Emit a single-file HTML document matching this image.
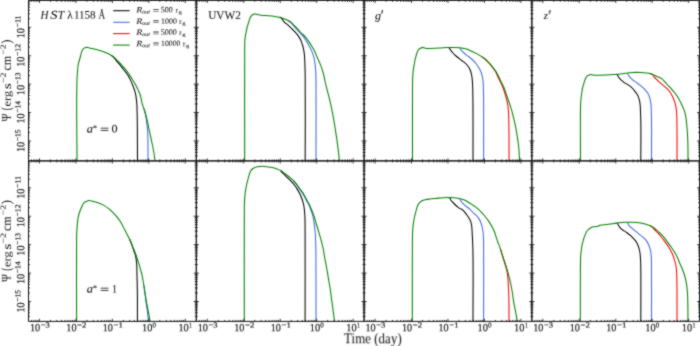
<!DOCTYPE html>
<html><head><meta charset="utf-8"><title>figure</title><style>
html,body{margin:0;padding:0;background:#fff;}
svg{display:block;will-change:transform;}
text{font-family:"Liberation Serif",serif;fill:#1a1a1a;stroke:#1a1a1a;stroke-width:0.15px;}
.i{font-style:italic;}
.t text{stroke-width:0.08px;}
.ax text{stroke-width:0.05px;}
.lg text{stroke-width:0.08px;}
.tk text{stroke-width:0.18px;}
</style></head><body>
<svg width="700" height="346" viewBox="0 0 700 346" xmlns="http://www.w3.org/2000/svg">
<defs><filter id="cv" x="0" y="0" width="700" height="346" filterUnits="userSpaceOnUse" color-interpolation-filters="sRGB"><feConvolveMatrix order="3" kernelMatrix="1 2 1 2 12 2 1 2 1" divisor="24" edgeMode="duplicate" preserveAlpha="true"/></filter></defs>
<g filter="url(#cv)">
<rect width="700" height="346" fill="#fff"/>

<g fill="none" stroke-linejoin="round" stroke-linecap="butt">
<path d="M111.90,55.80C112.47,56.27 113.09,56.67 113.60,57.20C114.51,58.14 115.16,59.30 116.00,60.30C116.89,61.37 117.91,62.33 118.80,63.40C119.74,64.53 120.60,65.73 121.50,66.90C122.63,68.37 123.76,69.84 124.90,71.30C125.86,72.54 126.91,73.71 127.80,75.00C128.02,75.32 128.21,75.66 128.40,76.00C129.29,77.60 130.13,79.24 130.90,80.90C131.63,82.47 132.27,84.09 132.90,85.70C133.53,87.32 134.19,88.94 134.70,90.60C135.11,91.95 135.43,93.32 135.70,94.70C136.01,96.32 136.21,97.96 136.40,99.60C136.61,101.36 136.79,103.13 136.90,104.90C137.04,107.26 137.04,109.63 137.10,112.00C137.18,115.33 137.26,118.67 137.30,122.00C137.38,128.00 137.37,134.00 137.40,140.00C137.44,146.97 137.47,153.93 137.50,160.90" stroke="#000000" stroke-width="1.05"/>
<path d="M143.80,108.40C144.37,110.27 145.08,112.10 145.50,114.00C145.96,116.07 146.12,118.20 146.40,120.30C146.80,123.30 147.25,126.29 147.50,129.30C147.75,132.36 147.82,135.43 147.90,138.50C148.01,142.83 147.98,147.17 148.00,151.50C148.01,154.63 148.00,157.77 148.00,160.90" stroke="#4169e1" stroke-width="1.05"/>
<path d="M77.00,160.90C77.00,133.93 76.21,106.96 77.00,80.00C77.08,77.16 77.26,74.33 77.50,71.50C77.71,69.06 77.84,66.60 78.30,64.20C78.44,63.45 78.70,62.73 78.90,62.00C79.40,60.17 79.90,58.33 80.40,56.50C80.77,55.13 81.05,53.74 81.50,52.40C81.84,51.41 82.12,50.37 82.70,49.50C83.07,48.95 83.53,48.44 84.10,48.10C84.70,47.74 85.41,47.62 86.10,47.50C86.69,47.40 87.31,47.31 87.90,47.40C88.29,47.46 88.63,47.67 89.00,47.80C89.40,47.94 89.79,48.10 90.20,48.20C91.51,48.53 92.89,48.58 94.20,48.90C95.49,49.22 96.72,49.75 98.00,50.10C99.15,50.41 100.35,50.55 101.50,50.90C102.66,51.25 103.78,51.74 104.90,52.20C106.08,52.68 107.27,53.12 108.40,53.70C109.61,54.32 110.78,55.03 111.90,55.80C112.84,56.44 113.74,57.15 114.60,57.90C115.58,58.75 116.47,59.69 117.40,60.60C118.34,61.52 119.30,62.44 120.20,63.40C120.99,64.24 121.73,65.13 122.50,66.00C123.30,66.90 124.13,67.77 124.90,68.70C126.12,70.19 127.28,71.73 128.40,73.30C129.03,74.18 129.61,75.10 130.20,76.00C131.11,77.39 132.03,78.78 132.90,80.20C133.87,81.78 134.83,83.37 135.70,85.00C136.56,86.60 137.33,88.25 138.10,89.90C138.73,91.25 139.41,92.59 139.90,94.00C140.54,95.82 140.98,97.71 141.40,99.60C141.69,100.89 141.77,102.22 142.10,103.50C142.54,105.17 143.27,106.76 143.80,108.40C144.40,110.26 144.97,112.12 145.50,114.00C146.07,115.99 146.62,117.99 147.10,120.00C147.84,123.08 148.44,126.20 149.10,129.30C149.88,133.00 150.63,136.70 151.40,140.40C152.17,144.10 153.06,147.78 153.70,151.50C154.24,154.62 154.57,157.77 155.00,160.90" stroke="#008000" stroke-width="1.05"/>
<path d="M279.60,17.00C280.17,17.33 280.82,17.56 281.30,18.00C282.15,18.77 282.66,19.85 283.30,20.80C283.54,21.16 283.71,21.58 284.00,21.90C285.00,23.01 286.36,23.73 287.50,24.70C288.67,25.70 289.79,26.74 290.90,27.80C292.09,28.94 293.28,30.09 294.40,31.30C295.62,32.62 296.85,33.94 297.90,35.40C298.99,36.92 300.00,38.51 300.80,40.20C301.53,41.73 302.01,43.37 302.50,45.00C302.98,46.61 303.38,48.25 303.70,49.90C304.01,51.49 304.24,53.09 304.40,54.70C304.58,56.46 304.62,58.23 304.70,60.00C304.83,62.67 304.93,65.33 305.00,68.00C305.11,72.00 305.17,76.00 305.20,80.00C305.42,106.97 305.20,133.93 305.20,160.90" stroke="#000000" stroke-width="1.05"/>
<path d="M287.50,20.20C288.63,21.00 289.88,21.67 290.90,22.60C292.23,23.81 293.22,25.35 294.40,26.70C295.55,28.01 296.73,29.30 297.90,30.60C299.03,31.87 300.13,33.17 301.30,34.40C301.92,35.05 302.63,35.61 303.20,36.30C304.38,37.73 305.32,39.33 306.30,40.90C307.28,42.47 308.23,44.07 309.10,45.70C309.96,47.30 310.78,48.93 311.50,50.60C312.18,52.17 312.78,53.77 313.30,55.40C313.78,56.91 314.19,58.45 314.50,60.00C314.69,60.96 314.78,61.93 314.90,62.90C315.13,64.73 315.35,66.56 315.50,68.40C315.69,70.70 315.82,73.00 315.90,75.30C316.01,78.53 315.98,81.77 316.00,85.00C316.13,110.30 316.00,135.60 316.00,160.90" stroke="#4169e1" stroke-width="1.05"/>
<path d="M244.70,160.90C244.70,123.93 244.48,86.97 244.70,50.00C244.72,47.23 244.64,44.46 244.80,41.70C244.93,39.46 245.13,37.21 245.50,35.00C245.67,33.99 245.98,33.00 246.20,32.00C246.56,30.34 246.78,28.65 247.20,27.00C247.56,25.61 248.07,24.27 248.50,22.90C248.94,21.50 249.25,20.06 249.80,18.70C250.16,17.80 250.51,16.87 251.10,16.10C251.59,15.46 252.19,14.87 252.90,14.50C253.39,14.24 253.96,14.19 254.50,14.10C254.86,14.04 255.23,13.95 255.60,14.00C256.20,14.07 256.72,14.45 257.30,14.60C258.45,14.90 259.63,15.05 260.80,15.20C262.53,15.41 264.27,15.44 266.00,15.60C268.90,15.86 271.82,16.04 274.70,16.50C276.72,16.82 278.72,17.29 280.70,17.80C281.81,18.09 282.92,18.42 284.00,18.80C285.19,19.22 286.37,19.65 287.50,20.20C288.68,20.78 289.86,21.40 290.90,22.20C292.20,23.21 293.23,24.53 294.40,25.70C295.57,26.87 296.77,28.00 297.90,29.20C299.07,30.43 300.11,31.79 301.30,33.00C302.44,34.16 303.80,35.10 304.90,36.30C306.20,37.72 307.29,39.32 308.40,40.90C309.49,42.46 310.51,44.07 311.50,45.70C312.48,47.31 313.46,48.92 314.30,50.60C315.08,52.16 315.71,53.80 316.40,55.40C317.01,56.80 317.58,58.21 318.20,59.60C318.69,60.71 319.23,61.79 319.70,62.90C320.46,64.71 321.16,66.54 321.80,68.40C322.43,70.25 323.01,72.11 323.50,74.00C324.18,76.64 324.59,79.34 325.20,82.00C326.00,85.48 326.93,88.93 327.80,92.40C328.67,95.87 329.60,99.32 330.40,102.80C331.35,106.95 332.22,111.12 333.00,115.30C333.87,119.95 334.57,124.63 335.30,129.30C336.00,133.73 336.70,138.16 337.30,142.60C337.90,147.02 338.41,151.46 338.90,155.90C339.08,157.56 339.23,159.23 339.40,160.90" stroke="#008000" stroke-width="1.05"/>
<path d="M448.40,47.60C448.60,47.63 448.83,47.59 449.00,47.70C449.69,48.13 449.92,49.04 450.40,49.70C451.08,50.64 451.74,51.62 452.50,52.50C453.58,53.75 454.77,54.90 456.00,56.00C457.08,56.96 458.27,57.80 459.40,58.70C460.57,59.63 461.65,60.68 462.90,61.50C463.37,61.81 463.95,61.96 464.40,62.30C465.59,63.19 466.59,64.32 467.50,65.50C468.52,66.83 469.43,68.27 470.10,69.80C470.82,71.45 471.23,73.23 471.60,75.00C472.02,77.01 472.22,79.06 472.40,81.10C472.60,83.39 472.63,85.70 472.70,88.00C472.82,92.00 472.85,96.00 472.90,100.00C472.94,103.33 472.98,106.67 473.00,110.00C473.08,126.97 473.00,143.93 473.00,160.90" stroke="#000000" stroke-width="1.05"/>
<path d="M459.80,48.00C460.13,48.50 460.44,49.02 460.80,49.50C461.42,50.33 462.07,51.16 462.80,51.90C464.06,53.18 465.49,54.28 466.90,55.40C468.26,56.48 469.77,57.37 471.10,58.50C472.59,59.77 474.03,61.11 475.30,62.60C476.28,63.75 477.08,65.03 477.90,66.30C478.82,67.73 479.80,69.15 480.50,70.70C481.25,72.36 481.78,74.13 482.20,75.90C482.67,77.87 482.91,79.89 483.10,81.90C483.42,85.25 483.41,88.63 483.50,92.00C483.57,94.67 483.58,97.33 483.60,100.00C483.73,120.30 483.60,140.60 483.60,160.90" stroke="#4169e1" stroke-width="1.05"/>
<path d="M482.00,56.80C483.17,57.70 484.40,58.52 485.50,59.50C486.71,60.58 487.81,61.79 488.90,63.00C490.12,64.35 491.28,65.76 492.40,67.20C493.62,68.76 494.94,70.27 495.90,72.00C496.60,73.26 496.92,74.69 497.50,76.00C498.33,77.87 499.34,79.65 500.20,81.50C501.17,83.58 502.16,85.66 503.00,87.80C503.79,89.83 504.45,91.92 505.10,94.00C505.61,95.62 506.09,97.25 506.50,98.90C507.00,100.88 507.48,102.88 507.80,104.90C508.17,107.22 508.34,109.56 508.50,111.90C508.68,114.50 508.73,117.10 508.80,119.70C508.87,122.47 508.86,125.23 508.90,128.00C508.93,130.33 508.98,132.67 509.00,135.00C509.06,143.63 509.00,152.27 509.00,160.90" stroke="#ff0000" stroke-width="1.05"/>
<path d="M412.50,160.90C412.50,137.27 412.38,113.63 412.50,90.00C412.52,86.67 412.50,83.33 412.60,80.00C412.66,77.97 412.73,75.93 412.90,73.90C413.04,72.16 413.25,70.43 413.50,68.70C413.75,66.96 414.10,65.23 414.40,63.50C414.56,62.57 414.70,61.63 414.90,60.70C415.25,59.09 415.66,57.49 416.10,55.90C416.49,54.49 416.81,53.04 417.40,51.70C417.77,50.85 418.15,49.96 418.80,49.30C419.29,48.80 419.96,48.50 420.60,48.20C421.36,47.84 422.16,47.39 423.00,47.40C423.50,47.41 423.93,47.75 424.40,47.90C424.96,48.08 425.52,48.32 426.10,48.40C427.39,48.59 428.70,48.43 430.00,48.40C433.34,48.33 436.67,48.19 440.00,48.00C442.30,47.87 444.60,47.58 446.90,47.50C449.23,47.42 451.57,47.46 453.90,47.50C455.93,47.53 457.98,47.47 460.00,47.70C461.86,47.91 463.70,48.29 465.50,48.80C467.42,49.35 469.27,50.11 471.10,50.90C472.98,51.71 474.80,52.63 476.60,53.60C478.03,54.38 479.42,55.24 480.80,56.10C481.37,56.46 481.95,56.81 482.50,57.20C483.59,57.96 484.69,58.73 485.70,59.60C486.90,60.63 488.03,61.74 489.10,62.90C490.34,64.24 491.48,65.66 492.60,67.10C493.82,68.66 495.03,70.23 496.10,71.90C496.95,73.22 497.68,74.61 498.40,76.00C499.33,77.80 500.11,79.68 501.00,81.50C501.91,83.38 502.98,85.18 503.80,87.10C504.57,88.89 505.16,90.76 505.80,92.60C506.53,94.69 507.18,96.81 507.90,98.90C508.59,100.91 509.35,102.88 510.00,104.90C510.75,107.22 511.46,109.55 512.10,111.90C512.80,114.48 513.38,117.10 514.00,119.70C514.55,122.00 515.14,124.28 515.60,126.60C516.35,130.38 516.93,134.19 517.50,138.00C517.99,141.33 518.48,144.65 518.80,148.00C519.21,152.29 519.33,156.60 519.60,160.90" stroke="#008000" stroke-width="1.05"/>
<path d="M616.50,74.10C616.73,74.20 617.02,74.22 617.20,74.40C617.76,74.94 617.80,75.84 618.20,76.50C618.72,77.36 619.32,78.16 620.00,78.90C620.82,79.79 621.77,80.54 622.70,81.30C623.60,82.04 624.52,82.77 625.50,83.40C626.39,83.97 627.42,84.31 628.30,84.90C629.88,85.95 631.38,87.14 632.70,88.50C633.20,89.01 633.56,89.64 634.00,90.20C634.70,91.10 635.41,91.99 636.10,92.90C636.40,93.30 636.75,93.67 637.00,94.10C637.94,95.73 638.68,97.49 639.20,99.30C639.77,101.25 639.99,103.28 640.20,105.30C640.43,107.52 640.41,109.77 640.50,112.00C640.61,114.67 640.75,117.33 640.80,120.00C641.06,133.63 640.80,147.27 640.80,160.90" stroke="#000000" stroke-width="1.05"/>
<path d="M627.50,73.40C627.53,73.47 627.56,73.53 627.60,73.60C628.11,74.55 628.55,75.55 629.20,76.40C630.20,77.71 631.43,78.85 632.70,79.90C633.85,80.85 635.20,81.52 636.40,82.40C637.36,83.10 638.27,83.86 639.20,84.60C640.17,85.36 641.16,86.10 642.10,86.90C642.93,87.60 643.75,88.31 644.50,89.10C645.22,89.85 645.86,90.68 646.50,91.50C647.06,92.22 647.66,92.91 648.10,93.70C648.76,94.89 649.21,96.20 649.60,97.50C650.20,99.49 650.62,101.54 650.90,103.60C651.21,105.88 651.20,108.20 651.30,110.50C651.41,113.00 651.47,115.50 651.50,118.00C651.69,132.30 651.50,146.60 651.50,160.90" stroke="#4169e1" stroke-width="1.05"/>
<path d="M649.30,73.40C650.50,73.90 651.91,74.06 652.90,74.90C653.57,75.46 653.76,76.42 654.30,77.10C655.13,78.13 656.16,78.98 657.10,79.90C658.03,80.81 658.93,81.74 659.90,82.60C661.00,83.58 662.19,84.44 663.30,85.40C664.73,86.63 666.21,87.82 667.50,89.20C668.75,90.53 669.92,91.96 670.90,93.50C671.94,95.14 672.75,96.91 673.50,98.70C674.21,100.39 674.84,102.13 675.30,103.90C675.82,105.90 676.16,107.95 676.40,110.00C676.67,112.32 676.72,114.66 676.80,117.00C676.96,121.33 676.97,125.67 677.00,130.00C677.08,140.30 677.00,150.60 677.00,160.90" stroke="#ff0000" stroke-width="1.05"/>
<path d="M580.50,160.90C580.50,143.53 580.22,126.16 580.50,108.80C580.53,106.77 580.59,104.73 580.70,102.70C580.80,100.96 580.90,99.23 581.10,97.50C581.33,95.49 581.68,93.50 582.00,91.50C582.22,90.13 582.39,88.75 582.70,87.40C583.07,85.78 583.60,84.19 584.10,82.60C584.51,81.29 584.84,79.95 585.40,78.70C585.78,77.86 586.14,76.95 586.80,76.30C587.29,75.82 587.97,75.56 588.60,75.30C589.37,74.98 590.17,74.63 591.00,74.60C591.48,74.58 591.93,74.81 592.40,74.90C593.20,75.05 593.99,75.23 594.80,75.30C595.86,75.39 596.93,75.32 598.00,75.30C600.00,75.27 602.00,75.19 604.00,75.10C606.30,74.99 608.60,74.84 610.90,74.70C613.00,74.57 615.11,74.50 617.20,74.30C618.81,74.15 620.40,73.89 622.00,73.70C624.00,73.46 626.00,73.22 628.00,73.00C629.57,72.83 631.13,72.58 632.70,72.50C635.56,72.35 638.44,72.38 641.30,72.50C642.87,72.57 644.44,72.70 646.00,72.90C647.41,73.08 648.83,73.21 650.20,73.60C651.14,73.86 652.00,74.33 652.90,74.70C654.30,75.27 655.72,75.78 657.10,76.40C658.76,77.14 660.53,77.72 662.00,78.80C662.78,79.37 663.34,80.19 664.00,80.90C664.95,81.92 665.85,82.98 666.80,84.00C668.15,85.45 669.58,86.83 670.90,88.30C672.42,89.99 673.94,91.68 675.30,93.50C676.54,95.16 677.66,96.91 678.70,98.70C679.84,100.67 680.84,102.73 681.80,104.80C682.73,106.80 683.70,108.80 684.40,110.90C684.97,112.59 685.39,114.34 685.70,116.10C686.52,120.69 686.81,125.36 687.20,130.00C687.44,132.83 687.58,135.66 687.70,138.50C687.86,142.33 687.95,146.17 688.00,150.00C688.05,153.63 688.00,157.27 688.00,160.90" stroke="#008000" stroke-width="1.05"/>
<path d="M129.60,239.30C130.07,240.37 130.57,241.42 131.00,242.50C131.55,243.91 132.00,245.37 132.50,246.80C133.10,248.53 133.70,250.27 134.30,252.00C134.70,253.17 135.21,254.30 135.50,255.50C136.18,258.35 136.46,261.28 136.70,264.20C137.01,268.06 136.91,271.93 137.00,275.80C137.15,281.87 137.33,287.93 137.40,294.00C137.50,303.13 137.40,312.27 137.40,321.40" stroke="#000000" stroke-width="1.05"/>
<path d="M143.80,285.00C144.30,288.67 144.82,292.33 145.30,296.00C145.58,298.10 145.82,300.20 146.10,302.30C146.61,306.17 147.23,310.03 147.70,313.90C148.01,316.40 148.23,318.90 148.50,321.40" stroke="#4169e1" stroke-width="1.05"/>
<path d="M76.60,321.40C76.60,294.27 76.37,267.13 76.60,240.00C76.62,238.00 76.62,236.00 76.70,234.00C76.81,231.20 76.96,228.39 77.20,225.60C77.41,223.16 77.59,220.71 78.00,218.30C78.27,216.68 78.63,215.07 79.10,213.50C79.46,212.31 79.94,211.16 80.40,210.00C81.04,208.39 81.59,206.73 82.40,205.20C82.88,204.28 83.34,203.30 84.10,202.60C84.83,201.93 85.78,201.56 86.70,201.20C87.44,200.91 88.21,200.63 89.00,200.60C90.18,200.55 91.34,200.95 92.50,201.20C94.05,201.53 95.59,201.92 97.10,202.40C98.08,202.71 99.05,203.09 100.00,203.50C101.46,204.13 102.93,204.79 104.30,205.60C105.84,206.51 107.30,207.58 108.70,208.70C110.21,209.91 111.63,211.23 113.00,212.60C114.50,214.10 115.96,215.65 117.30,217.30C118.38,218.64 119.39,220.04 120.30,221.50C122.02,224.26 123.39,227.22 124.90,230.10C126.50,233.15 128.15,236.18 129.60,239.30C130.83,241.96 131.90,244.69 133.00,247.40C134.03,249.92 135.08,252.44 136.00,255.00C137.09,258.03 138.07,261.11 139.00,264.20C140.05,267.68 141.09,271.16 141.90,274.70C142.68,278.10 143.21,281.56 143.80,285.00C144.78,290.75 145.48,296.55 146.50,302.30C147.19,306.18 148.11,310.02 148.80,313.90C149.25,316.39 149.60,318.90 150.00,321.40" stroke="#008000" stroke-width="1.05"/>
<path d="M280.50,170.40C280.83,170.87 281.12,171.37 281.50,171.80C282.26,172.67 283.18,173.39 284.00,174.20C285.15,175.35 286.21,176.59 287.40,177.70C287.59,177.88 287.81,178.03 288.00,178.20C289.21,179.29 290.39,180.41 291.50,181.60C292.60,182.78 293.63,184.02 294.60,185.30C295.53,186.52 296.39,187.80 297.20,189.10C298.09,190.53 298.95,191.99 299.70,193.50C300.42,194.96 301.02,196.48 301.60,198.00C302.08,199.25 302.53,200.51 302.90,201.80C303.30,203.18 303.65,204.58 303.90,206.00C304.25,207.98 304.43,209.99 304.60,212.00C304.82,214.66 304.92,217.33 305.00,220.00C305.10,223.33 305.08,226.67 305.10,230.00C305.25,260.47 305.10,290.93 305.10,321.40" stroke="#000000" stroke-width="1.05"/>
<path d="M293.20,180.30C294.23,181.57 295.33,182.78 296.30,184.10C297.34,185.52 298.20,187.06 299.20,188.50C300.23,189.99 301.42,191.37 302.40,192.90C303.32,194.35 304.10,195.88 304.90,197.40C305.67,198.85 306.29,200.37 307.10,201.80C307.53,202.56 308.10,203.23 308.50,204.00C309.26,205.44 309.82,206.98 310.40,208.50C310.95,209.95 311.43,211.42 311.90,212.90C312.37,214.39 312.84,215.88 313.20,217.40C313.54,218.85 313.78,220.33 314.00,221.80C314.21,223.19 314.34,224.60 314.50,226.00C314.74,228.10 315.03,230.19 315.20,232.30C315.48,235.79 315.59,239.30 315.70,242.80C315.83,246.87 315.86,250.93 315.90,255.00C316.10,277.13 315.97,299.27 316.00,321.40" stroke="#4169e1" stroke-width="1.05"/>
<path d="M244.30,321.40C244.30,285.93 244.14,250.47 244.30,215.00C244.32,211.33 244.27,207.66 244.40,204.00C244.50,201.20 244.63,198.39 244.90,195.60C245.14,193.16 245.47,190.72 245.90,188.30C246.17,186.75 246.54,185.23 246.90,183.70C247.46,181.36 248.03,179.01 248.70,176.70C249.21,174.95 249.50,173.09 250.40,171.50C251.05,170.35 251.92,169.27 253.00,168.50C254.26,167.61 255.80,167.16 257.30,166.80C258.99,166.39 260.76,166.29 262.50,166.30C264.34,166.31 266.17,166.65 268.00,166.90C269.41,167.09 270.81,167.30 272.20,167.60C273.58,167.90 274.96,168.25 276.30,168.70C277.73,169.18 279.17,169.69 280.50,170.40C281.75,171.07 282.86,171.96 284.00,172.80C285.40,173.82 286.75,174.91 288.10,176.00C288.91,176.65 289.70,177.33 290.50,178.00C291.40,178.76 292.35,179.47 293.20,180.30C294.38,181.46 295.47,182.71 296.50,184.00C297.65,185.44 298.63,187.01 299.70,188.50C300.76,189.97 301.92,191.37 302.90,192.90C303.82,194.35 304.59,195.89 305.40,197.40C306.19,198.86 306.87,200.37 307.70,201.80C308.14,202.55 308.70,203.23 309.10,204.00C309.86,205.44 310.36,207.00 311.00,208.50C311.63,209.97 312.32,211.41 312.90,212.90C313.48,214.38 314.02,215.88 314.50,217.40C315.18,219.58 315.66,221.81 316.30,224.00C317.11,226.78 318.08,229.52 318.90,232.30C319.82,235.42 320.69,238.55 321.50,241.70C322.21,244.46 322.96,247.21 323.50,250.00C323.89,251.98 324.06,254.01 324.40,256.00C324.85,258.64 325.41,261.26 325.90,263.90C326.38,266.50 326.85,269.10 327.30,271.70C327.82,274.66 328.30,277.63 328.80,280.60C329.30,283.53 329.86,286.46 330.30,289.40C330.65,291.73 330.89,294.07 331.20,296.40C331.66,299.87 332.14,303.33 332.60,306.80C333.07,310.30 333.55,313.80 334.00,317.30C334.17,318.67 334.33,320.03 334.50,321.40" stroke="#008000" stroke-width="1.05"/>
<path d="M448.40,197.60C448.77,197.63 449.19,197.50 449.50,197.70C450.16,198.14 450.16,199.14 450.60,199.80C451.18,200.67 451.90,201.43 452.60,202.20C453.49,203.17 454.43,204.10 455.40,205.00C456.30,205.84 457.22,206.66 458.20,207.40C458.77,207.84 459.37,208.25 460.00,208.60C460.73,209.00 461.63,209.10 462.30,209.60C464.12,210.95 465.34,212.98 466.70,214.80C467.94,216.46 469.21,218.13 470.10,220.00C470.71,221.26 471.12,222.63 471.40,224.00C472.13,227.64 472.08,231.39 472.30,235.10C472.60,240.06 472.80,245.03 472.90,250.00C473.40,273.79 472.97,297.60 473.00,321.40" stroke="#000000" stroke-width="1.05"/>
<path d="M459.70,199.20C460.30,200.07 460.83,200.99 461.50,201.80C462.53,203.06 463.69,204.22 464.90,205.30C466.28,206.53 467.92,207.47 469.30,208.70C470.83,210.06 472.09,211.71 473.60,213.10C474.36,213.81 475.26,214.37 476.00,215.10C476.94,216.03 477.87,217.00 478.60,218.10C479.51,219.46 480.21,220.97 480.80,222.50C481.55,224.44 482.09,226.46 482.50,228.50C482.99,230.97 483.23,233.49 483.40,236.00C483.71,240.66 483.57,245.33 483.60,250.00C483.77,273.80 483.60,297.60 483.60,321.40" stroke="#4169e1" stroke-width="1.05"/>
<path d="M500.30,248.70C501.17,251.47 502.05,254.23 502.90,257.00C503.61,259.33 504.34,261.66 505.00,264.00C505.78,266.75 506.68,269.49 507.20,272.30C507.71,275.07 507.87,277.89 508.10,280.70C508.35,283.79 508.47,286.90 508.60,290.00C508.74,293.33 508.84,296.67 508.90,300.00C509.02,307.13 508.97,314.27 509.00,321.40" stroke="#ff0000" stroke-width="1.05"/>
<path d="M412.30,321.40C412.33,295.60 412.23,269.80 412.40,244.00C412.42,241.23 412.42,238.47 412.50,235.70C412.56,233.37 412.61,231.03 412.80,228.70C412.96,226.69 413.21,224.69 413.50,222.70C413.75,220.96 414.04,219.22 414.40,217.50C414.69,216.12 415.05,214.76 415.40,213.40C415.81,211.79 416.22,210.19 416.70,208.60C417.13,207.19 417.37,205.68 418.10,204.40C418.55,203.60 419.20,202.90 419.90,202.30C420.71,201.61 421.63,201.05 422.60,200.60C423.71,200.09 424.91,199.76 426.10,199.50C427.38,199.22 428.70,199.15 430.00,199.00C432.00,198.77 434.00,198.60 436.00,198.40C438.30,198.17 440.59,197.84 442.90,197.70C445.00,197.58 447.10,197.57 449.20,197.60C450.80,197.62 452.40,197.67 454.00,197.80C455.34,197.91 456.68,198.05 458.00,198.30C459.76,198.63 461.52,198.98 463.20,199.60C465.02,200.27 466.73,201.22 468.40,202.20C470.20,203.25 471.86,204.54 473.60,205.70C474.56,206.34 475.59,206.88 476.50,207.60C477.87,208.68 479.08,209.96 480.30,211.20C481.82,212.75 483.30,214.34 484.70,216.00C486.21,217.80 487.70,219.64 489.00,221.60C490.46,223.80 491.68,226.16 492.90,228.50C493.33,229.32 493.75,230.14 494.10,231.00C495.33,234.03 496.12,237.22 497.20,240.30C498.19,243.12 499.34,245.88 500.30,248.70C501.24,251.44 502.00,254.25 502.90,257.00C503.67,259.34 504.53,261.66 505.30,264.00C506.20,266.75 507.11,269.51 507.90,272.30C508.68,275.08 509.36,277.89 510.00,280.70C510.78,284.12 511.50,287.55 512.10,291.00C512.74,294.68 513.07,298.42 513.70,302.10C514.16,304.81 514.80,307.49 515.30,310.20C515.90,313.46 516.60,316.71 517.00,320.00C517.06,320.46 517.07,320.93 517.10,321.40" stroke="#008000" stroke-width="1.05"/>
<path d="M616.80,223.00C616.97,223.03 617.16,223.00 617.30,223.10C617.93,223.57 617.99,224.53 618.40,225.20C618.91,226.04 619.47,226.85 620.10,227.60C620.74,228.36 621.42,229.09 622.20,229.70C623.46,230.69 624.99,231.28 626.30,232.20C627.84,233.27 629.31,234.44 630.70,235.70C631.91,236.79 633.04,237.97 634.10,239.20C635.11,240.37 636.13,241.56 636.90,242.90C637.77,244.43 638.39,246.11 638.90,247.80C639.48,249.72 639.83,251.71 640.10,253.70C640.41,255.98 640.49,258.30 640.60,260.60C640.75,263.73 640.77,266.87 640.80,270.00C640.98,287.13 640.80,304.27 640.80,321.40" stroke="#000000" stroke-width="1.05"/>
<path d="M627.40,222.60C627.47,222.77 627.52,222.94 627.60,223.10C627.98,223.86 628.37,224.63 628.90,225.30C629.91,226.58 631.18,227.62 632.40,228.70C633.78,229.93 635.26,231.04 636.70,232.20C638.16,233.37 639.62,234.55 641.10,235.70C641.50,236.01 641.92,236.28 642.30,236.60C643.53,237.63 644.80,238.65 645.80,239.90C646.99,241.38 647.95,243.06 648.70,244.80C649.65,247.00 650.26,249.35 650.70,251.70C651.19,254.30 651.27,256.96 651.40,259.60C651.57,263.06 651.48,266.53 651.50,270.00C651.58,287.13 651.50,304.27 651.50,321.40" stroke="#4169e1" stroke-width="1.05"/>
<path d="M649.50,225.40C650.63,226.20 651.86,226.88 652.90,227.80C653.94,228.72 654.74,229.89 655.70,230.90C656.61,231.86 657.60,232.73 658.50,233.70C659.34,234.60 660.13,235.55 660.90,236.50C662.38,238.33 663.81,240.20 665.20,242.10C666.54,243.94 667.91,245.76 669.10,247.70C670.21,249.51 671.24,251.37 672.10,253.30C672.98,255.27 673.64,257.34 674.30,259.40C674.79,260.92 675.25,262.44 675.60,264.00C675.91,265.42 676.14,266.86 676.30,268.30C676.63,271.39 676.70,274.50 676.80,277.60C677.02,284.40 676.97,291.20 677.00,298.00C677.04,305.80 677.00,313.60 677.00,321.40" stroke="#ff0000" stroke-width="1.05"/>
<path d="M580.30,321.40C580.33,304.27 580.27,287.13 580.40,270.00C580.42,267.50 580.45,265.00 580.50,262.50C580.55,260.20 580.54,257.90 580.70,255.60C580.85,253.56 581.13,251.53 581.40,249.50C581.63,247.76 581.83,246.02 582.20,244.30C582.49,242.95 582.91,241.63 583.30,240.30C583.74,238.82 584.16,237.34 584.70,235.90C585.23,234.47 585.69,232.99 586.50,231.70C587.07,230.80 587.80,230.00 588.60,229.30C589.41,228.59 590.31,227.93 591.30,227.50C592.40,227.03 593.62,226.91 594.80,226.70C595.86,226.51 596.97,226.61 598.00,226.30C598.71,226.08 599.29,225.51 600.00,225.30C602.22,224.64 604.61,224.81 606.90,224.50C609.24,224.18 611.56,223.72 613.90,223.40C615.03,223.24 616.17,223.13 617.30,223.00C619.53,222.75 621.76,222.43 624.00,222.30C626.23,222.17 628.47,222.15 630.70,222.20C633.57,222.26 636.46,222.28 639.30,222.70C641.57,223.03 643.79,223.69 646.00,224.30C647.18,224.63 648.37,224.94 649.50,225.40C650.67,225.87 651.83,226.42 652.90,227.10C654.16,227.91 655.26,228.94 656.40,229.90C657.59,230.90 658.77,231.93 659.90,233.00C661.03,234.07 662.18,235.13 663.20,236.30C664.54,237.84 665.68,239.55 666.90,241.20C668.39,243.22 669.88,245.23 671.30,247.30C672.65,249.27 674.03,251.22 675.20,253.30C676.48,255.56 677.60,257.91 678.60,260.30C678.83,260.85 678.98,261.44 679.20,262.00C680.05,264.14 681.14,266.17 682.00,268.30C682.95,270.67 683.88,273.05 684.60,275.50C685.41,278.26 686.03,281.07 686.50,283.90C686.96,286.64 687.18,289.43 687.40,292.20C687.55,294.13 687.64,296.07 687.70,298.00C687.95,305.80 687.90,313.60 688.00,321.40" stroke="#008000" stroke-width="1.05"/>
</g>
<path d="M31.41,160.90v-1.5M31.41,0.40v1.5M33.85,160.90v-1.5M33.85,0.40v1.5M35.97,160.90v-1.5M35.97,0.40v1.5M37.83,160.90v-1.5M37.83,0.40v1.5M39.50,160.90v-2.6M39.50,0.40v2.6M50.47,160.90v-1.5M50.47,0.40v1.5M56.89,160.90v-1.5M56.89,0.40v1.5M61.45,160.90v-1.5M61.45,0.40v1.5M64.98,160.90v-1.5M64.98,0.40v1.5M67.86,160.90v-1.5M67.86,0.40v1.5M70.30,160.90v-1.5M70.30,0.40v1.5M72.42,160.90v-1.5M72.42,0.40v1.5M74.28,160.90v-1.5M74.28,0.40v1.5M75.95,160.90v-2.6M75.95,0.40v2.6M86.92,160.90v-1.5M86.92,0.40v1.5M93.34,160.90v-1.5M93.34,0.40v1.5M97.90,160.90v-1.5M97.90,0.40v1.5M101.43,160.90v-1.5M101.43,0.40v1.5M104.31,160.90v-1.5M104.31,0.40v1.5M106.75,160.90v-1.5M106.75,0.40v1.5M108.87,160.90v-1.5M108.87,0.40v1.5M110.73,160.90v-1.5M110.73,0.40v1.5M112.40,160.90v-2.6M112.40,0.40v2.6M123.37,160.90v-1.5M123.37,0.40v1.5M129.79,160.90v-1.5M129.79,0.40v1.5M134.35,160.90v-1.5M134.35,0.40v1.5M137.88,160.90v-1.5M137.88,0.40v1.5M140.76,160.90v-1.5M140.76,0.40v1.5M143.20,160.90v-1.5M143.20,0.40v1.5M145.32,160.90v-1.5M145.32,0.40v1.5M147.18,160.90v-1.5M147.18,0.40v1.5M148.85,160.90v-2.6M148.85,0.40v2.6M159.82,160.90v-1.5M159.82,0.40v1.5M166.24,160.90v-1.5M166.24,0.40v1.5M170.80,160.90v-1.5M170.80,0.40v1.5M174.33,160.90v-1.5M174.33,0.40v1.5M177.21,160.90v-1.5M177.21,0.40v1.5M179.65,160.90v-1.5M179.65,0.40v1.5M181.77,160.90v-1.5M181.77,0.40v1.5M183.63,160.90v-1.5M183.63,0.40v1.5M185.30,160.90v-2.6M185.30,0.40v2.6M28.50,155.84h1.5M196.25,155.84h-1.5M28.50,152.29h1.5M196.25,152.29h-1.5M28.50,149.54h1.5M196.25,149.54h-1.5M28.50,147.28h1.5M196.25,147.28h-1.5M28.50,145.38h1.5M196.25,145.38h-1.5M28.50,143.73h1.5M196.25,143.73h-1.5M28.50,142.28h1.5M196.25,142.28h-1.5M28.50,140.98h2.6M196.25,140.98h-2.6M28.50,132.42h1.5M196.25,132.42h-1.5M28.50,127.42h1.5M196.25,127.42h-1.5M28.50,123.87h1.5M196.25,123.87h-1.5M28.50,121.12h1.5M196.25,121.12h-1.5M28.50,118.86h1.5M196.25,118.86h-1.5M28.50,116.96h1.5M196.25,116.96h-1.5M28.50,115.31h1.5M196.25,115.31h-1.5M28.50,113.86h1.5M196.25,113.86h-1.5M28.50,112.56h2.6M196.25,112.56h-2.6M28.50,104.00h1.5M196.25,104.00h-1.5M28.50,99.00h1.5M196.25,99.00h-1.5M28.50,95.45h1.5M196.25,95.45h-1.5M28.50,92.70h1.5M196.25,92.70h-1.5M28.50,90.44h1.5M196.25,90.44h-1.5M28.50,88.54h1.5M196.25,88.54h-1.5M28.50,86.89h1.5M196.25,86.89h-1.5M28.50,85.44h1.5M196.25,85.44h-1.5M28.50,84.14h2.6M196.25,84.14h-2.6M28.50,75.58h1.5M196.25,75.58h-1.5M28.50,70.58h1.5M196.25,70.58h-1.5M28.50,67.03h1.5M196.25,67.03h-1.5M28.50,64.28h1.5M196.25,64.28h-1.5M28.50,62.02h1.5M196.25,62.02h-1.5M28.50,60.12h1.5M196.25,60.12h-1.5M28.50,58.47h1.5M196.25,58.47h-1.5M28.50,57.02h1.5M196.25,57.02h-1.5M28.50,55.72h2.6M196.25,55.72h-2.6M28.50,47.16h1.5M196.25,47.16h-1.5M28.50,42.16h1.5M196.25,42.16h-1.5M28.50,38.61h1.5M196.25,38.61h-1.5M28.50,35.86h1.5M196.25,35.86h-1.5M28.50,33.60h1.5M196.25,33.60h-1.5M28.50,31.70h1.5M196.25,31.70h-1.5M28.50,30.05h1.5M196.25,30.05h-1.5M28.50,28.60h1.5M196.25,28.60h-1.5M28.50,27.30h2.6M196.25,27.30h-2.6M28.50,18.74h1.5M196.25,18.74h-1.5M28.50,13.74h1.5M196.25,13.74h-1.5M28.50,10.19h1.5M196.25,10.19h-1.5M28.50,7.44h1.5M196.25,7.44h-1.5M28.50,5.18h1.5M196.25,5.18h-1.5M28.50,3.28h1.5M196.25,3.28h-1.5M28.50,1.63h1.5M196.25,1.63h-1.5M199.26,160.90v-1.5M199.26,0.40v1.5M201.70,160.90v-1.5M201.70,0.40v1.5M203.82,160.90v-1.5M203.82,0.40v1.5M205.68,160.90v-1.5M205.68,0.40v1.5M207.35,160.90v-2.6M207.35,0.40v2.6M218.32,160.90v-1.5M218.32,0.40v1.5M224.74,160.90v-1.5M224.74,0.40v1.5M229.30,160.90v-1.5M229.30,0.40v1.5M232.83,160.90v-1.5M232.83,0.40v1.5M235.71,160.90v-1.5M235.71,0.40v1.5M238.15,160.90v-1.5M238.15,0.40v1.5M240.27,160.90v-1.5M240.27,0.40v1.5M242.13,160.90v-1.5M242.13,0.40v1.5M243.80,160.90v-2.6M243.80,0.40v2.6M254.77,160.90v-1.5M254.77,0.40v1.5M261.19,160.90v-1.5M261.19,0.40v1.5M265.75,160.90v-1.5M265.75,0.40v1.5M269.28,160.90v-1.5M269.28,0.40v1.5M272.16,160.90v-1.5M272.16,0.40v1.5M274.60,160.90v-1.5M274.60,0.40v1.5M276.72,160.90v-1.5M276.72,0.40v1.5M278.58,160.90v-1.5M278.58,0.40v1.5M280.25,160.90v-2.6M280.25,0.40v2.6M291.22,160.90v-1.5M291.22,0.40v1.5M297.64,160.90v-1.5M297.64,0.40v1.5M302.20,160.90v-1.5M302.20,0.40v1.5M305.73,160.90v-1.5M305.73,0.40v1.5M308.61,160.90v-1.5M308.61,0.40v1.5M311.05,160.90v-1.5M311.05,0.40v1.5M313.17,160.90v-1.5M313.17,0.40v1.5M315.03,160.90v-1.5M315.03,0.40v1.5M316.70,160.90v-2.6M316.70,0.40v2.6M327.67,160.90v-1.5M327.67,0.40v1.5M334.09,160.90v-1.5M334.09,0.40v1.5M338.65,160.90v-1.5M338.65,0.40v1.5M342.18,160.90v-1.5M342.18,0.40v1.5M345.06,160.90v-1.5M345.06,0.40v1.5M347.50,160.90v-1.5M347.50,0.40v1.5M349.62,160.90v-1.5M349.62,0.40v1.5M351.48,160.90v-1.5M351.48,0.40v1.5M353.15,160.90v-2.6M353.15,0.40v2.6M196.35,155.84h1.5M364.10,155.84h-1.5M196.35,152.29h1.5M364.10,152.29h-1.5M196.35,149.54h1.5M364.10,149.54h-1.5M196.35,147.28h1.5M364.10,147.28h-1.5M196.35,145.38h1.5M364.10,145.38h-1.5M196.35,143.73h1.5M364.10,143.73h-1.5M196.35,142.28h1.5M364.10,142.28h-1.5M196.35,140.98h2.6M364.10,140.98h-2.6M196.35,132.42h1.5M364.10,132.42h-1.5M196.35,127.42h1.5M364.10,127.42h-1.5M196.35,123.87h1.5M364.10,123.87h-1.5M196.35,121.12h1.5M364.10,121.12h-1.5M196.35,118.86h1.5M364.10,118.86h-1.5M196.35,116.96h1.5M364.10,116.96h-1.5M196.35,115.31h1.5M364.10,115.31h-1.5M196.35,113.86h1.5M364.10,113.86h-1.5M196.35,112.56h2.6M364.10,112.56h-2.6M196.35,104.00h1.5M364.10,104.00h-1.5M196.35,99.00h1.5M364.10,99.00h-1.5M196.35,95.45h1.5M364.10,95.45h-1.5M196.35,92.70h1.5M364.10,92.70h-1.5M196.35,90.44h1.5M364.10,90.44h-1.5M196.35,88.54h1.5M364.10,88.54h-1.5M196.35,86.89h1.5M364.10,86.89h-1.5M196.35,85.44h1.5M364.10,85.44h-1.5M196.35,84.14h2.6M364.10,84.14h-2.6M196.35,75.58h1.5M364.10,75.58h-1.5M196.35,70.58h1.5M364.10,70.58h-1.5M196.35,67.03h1.5M364.10,67.03h-1.5M196.35,64.28h1.5M364.10,64.28h-1.5M196.35,62.02h1.5M364.10,62.02h-1.5M196.35,60.12h1.5M364.10,60.12h-1.5M196.35,58.47h1.5M364.10,58.47h-1.5M196.35,57.02h1.5M364.10,57.02h-1.5M196.35,55.72h2.6M364.10,55.72h-2.6M196.35,47.16h1.5M364.10,47.16h-1.5M196.35,42.16h1.5M364.10,42.16h-1.5M196.35,38.61h1.5M364.10,38.61h-1.5M196.35,35.86h1.5M364.10,35.86h-1.5M196.35,33.60h1.5M364.10,33.60h-1.5M196.35,31.70h1.5M364.10,31.70h-1.5M196.35,30.05h1.5M364.10,30.05h-1.5M196.35,28.60h1.5M364.10,28.60h-1.5M196.35,27.30h2.6M364.10,27.30h-2.6M196.35,18.74h1.5M364.10,18.74h-1.5M196.35,13.74h1.5M364.10,13.74h-1.5M196.35,10.19h1.5M364.10,10.19h-1.5M196.35,7.44h1.5M364.10,7.44h-1.5M196.35,5.18h1.5M364.10,5.18h-1.5M196.35,3.28h1.5M364.10,3.28h-1.5M196.35,1.63h1.5M364.10,1.63h-1.5M367.01,160.90v-1.5M367.01,0.40v1.5M369.45,160.90v-1.5M369.45,0.40v1.5M371.57,160.90v-1.5M371.57,0.40v1.5M373.43,160.90v-1.5M373.43,0.40v1.5M375.10,160.90v-2.6M375.10,0.40v2.6M386.07,160.90v-1.5M386.07,0.40v1.5M392.49,160.90v-1.5M392.49,0.40v1.5M397.05,160.90v-1.5M397.05,0.40v1.5M400.58,160.90v-1.5M400.58,0.40v1.5M403.46,160.90v-1.5M403.46,0.40v1.5M405.90,160.90v-1.5M405.90,0.40v1.5M408.02,160.90v-1.5M408.02,0.40v1.5M409.88,160.90v-1.5M409.88,0.40v1.5M411.55,160.90v-2.6M411.55,0.40v2.6M422.52,160.90v-1.5M422.52,0.40v1.5M428.94,160.90v-1.5M428.94,0.40v1.5M433.50,160.90v-1.5M433.50,0.40v1.5M437.03,160.90v-1.5M437.03,0.40v1.5M439.91,160.90v-1.5M439.91,0.40v1.5M442.35,160.90v-1.5M442.35,0.40v1.5M444.47,160.90v-1.5M444.47,0.40v1.5M446.33,160.90v-1.5M446.33,0.40v1.5M448.00,160.90v-2.6M448.00,0.40v2.6M458.97,160.90v-1.5M458.97,0.40v1.5M465.39,160.90v-1.5M465.39,0.40v1.5M469.95,160.90v-1.5M469.95,0.40v1.5M473.48,160.90v-1.5M473.48,0.40v1.5M476.36,160.90v-1.5M476.36,0.40v1.5M478.80,160.90v-1.5M478.80,0.40v1.5M480.92,160.90v-1.5M480.92,0.40v1.5M482.78,160.90v-1.5M482.78,0.40v1.5M484.45,160.90v-2.6M484.45,0.40v2.6M495.42,160.90v-1.5M495.42,0.40v1.5M501.84,160.90v-1.5M501.84,0.40v1.5M506.40,160.90v-1.5M506.40,0.40v1.5M509.93,160.90v-1.5M509.93,0.40v1.5M512.81,160.90v-1.5M512.81,0.40v1.5M515.25,160.90v-1.5M515.25,0.40v1.5M517.37,160.90v-1.5M517.37,0.40v1.5M519.23,160.90v-1.5M519.23,0.40v1.5M520.90,160.90v-2.6M520.90,0.40v2.6M364.10,155.84h1.5M531.85,155.84h-1.5M364.10,152.29h1.5M531.85,152.29h-1.5M364.10,149.54h1.5M531.85,149.54h-1.5M364.10,147.28h1.5M531.85,147.28h-1.5M364.10,145.38h1.5M531.85,145.38h-1.5M364.10,143.73h1.5M531.85,143.73h-1.5M364.10,142.28h1.5M531.85,142.28h-1.5M364.10,140.98h2.6M531.85,140.98h-2.6M364.10,132.42h1.5M531.85,132.42h-1.5M364.10,127.42h1.5M531.85,127.42h-1.5M364.10,123.87h1.5M531.85,123.87h-1.5M364.10,121.12h1.5M531.85,121.12h-1.5M364.10,118.86h1.5M531.85,118.86h-1.5M364.10,116.96h1.5M531.85,116.96h-1.5M364.10,115.31h1.5M531.85,115.31h-1.5M364.10,113.86h1.5M531.85,113.86h-1.5M364.10,112.56h2.6M531.85,112.56h-2.6M364.10,104.00h1.5M531.85,104.00h-1.5M364.10,99.00h1.5M531.85,99.00h-1.5M364.10,95.45h1.5M531.85,95.45h-1.5M364.10,92.70h1.5M531.85,92.70h-1.5M364.10,90.44h1.5M531.85,90.44h-1.5M364.10,88.54h1.5M531.85,88.54h-1.5M364.10,86.89h1.5M531.85,86.89h-1.5M364.10,85.44h1.5M531.85,85.44h-1.5M364.10,84.14h2.6M531.85,84.14h-2.6M364.10,75.58h1.5M531.85,75.58h-1.5M364.10,70.58h1.5M531.85,70.58h-1.5M364.10,67.03h1.5M531.85,67.03h-1.5M364.10,64.28h1.5M531.85,64.28h-1.5M364.10,62.02h1.5M531.85,62.02h-1.5M364.10,60.12h1.5M531.85,60.12h-1.5M364.10,58.47h1.5M531.85,58.47h-1.5M364.10,57.02h1.5M531.85,57.02h-1.5M364.10,55.72h2.6M531.85,55.72h-2.6M364.10,47.16h1.5M531.85,47.16h-1.5M364.10,42.16h1.5M531.85,42.16h-1.5M364.10,38.61h1.5M531.85,38.61h-1.5M364.10,35.86h1.5M531.85,35.86h-1.5M364.10,33.60h1.5M531.85,33.60h-1.5M364.10,31.70h1.5M531.85,31.70h-1.5M364.10,30.05h1.5M531.85,30.05h-1.5M364.10,28.60h1.5M531.85,28.60h-1.5M364.10,27.30h2.6M531.85,27.30h-2.6M364.10,18.74h1.5M531.85,18.74h-1.5M364.10,13.74h1.5M531.85,13.74h-1.5M364.10,10.19h1.5M531.85,10.19h-1.5M364.10,7.44h1.5M531.85,7.44h-1.5M364.10,5.18h1.5M531.85,5.18h-1.5M364.10,3.28h1.5M531.85,3.28h-1.5M364.10,1.63h1.5M531.85,1.63h-1.5M534.76,160.90v-1.5M534.76,0.40v1.5M537.20,160.90v-1.5M537.20,0.40v1.5M539.32,160.90v-1.5M539.32,0.40v1.5M541.18,160.90v-1.5M541.18,0.40v1.5M542.85,160.90v-2.6M542.85,0.40v2.6M553.82,160.90v-1.5M553.82,0.40v1.5M560.24,160.90v-1.5M560.24,0.40v1.5M564.80,160.90v-1.5M564.80,0.40v1.5M568.33,160.90v-1.5M568.33,0.40v1.5M571.21,160.90v-1.5M571.21,0.40v1.5M573.65,160.90v-1.5M573.65,0.40v1.5M575.77,160.90v-1.5M575.77,0.40v1.5M577.63,160.90v-1.5M577.63,0.40v1.5M579.30,160.90v-2.6M579.30,0.40v2.6M590.27,160.90v-1.5M590.27,0.40v1.5M596.69,160.90v-1.5M596.69,0.40v1.5M601.25,160.90v-1.5M601.25,0.40v1.5M604.78,160.90v-1.5M604.78,0.40v1.5M607.66,160.90v-1.5M607.66,0.40v1.5M610.10,160.90v-1.5M610.10,0.40v1.5M612.22,160.90v-1.5M612.22,0.40v1.5M614.08,160.90v-1.5M614.08,0.40v1.5M615.75,160.90v-2.6M615.75,0.40v2.6M626.72,160.90v-1.5M626.72,0.40v1.5M633.14,160.90v-1.5M633.14,0.40v1.5M637.70,160.90v-1.5M637.70,0.40v1.5M641.23,160.90v-1.5M641.23,0.40v1.5M644.11,160.90v-1.5M644.11,0.40v1.5M646.55,160.90v-1.5M646.55,0.40v1.5M648.67,160.90v-1.5M648.67,0.40v1.5M650.53,160.90v-1.5M650.53,0.40v1.5M652.20,160.90v-2.6M652.20,0.40v2.6M663.17,160.90v-1.5M663.17,0.40v1.5M669.59,160.90v-1.5M669.59,0.40v1.5M674.15,160.90v-1.5M674.15,0.40v1.5M677.68,160.90v-1.5M677.68,0.40v1.5M680.56,160.90v-1.5M680.56,0.40v1.5M683.00,160.90v-1.5M683.00,0.40v1.5M685.12,160.90v-1.5M685.12,0.40v1.5M686.98,160.90v-1.5M686.98,0.40v1.5M688.65,160.90v-2.6M688.65,0.40v2.6M531.85,155.84h1.5M699.60,155.84h-1.5M531.85,152.29h1.5M699.60,152.29h-1.5M531.85,149.54h1.5M699.60,149.54h-1.5M531.85,147.28h1.5M699.60,147.28h-1.5M531.85,145.38h1.5M699.60,145.38h-1.5M531.85,143.73h1.5M699.60,143.73h-1.5M531.85,142.28h1.5M699.60,142.28h-1.5M531.85,140.98h2.6M699.60,140.98h-2.6M531.85,132.42h1.5M699.60,132.42h-1.5M531.85,127.42h1.5M699.60,127.42h-1.5M531.85,123.87h1.5M699.60,123.87h-1.5M531.85,121.12h1.5M699.60,121.12h-1.5M531.85,118.86h1.5M699.60,118.86h-1.5M531.85,116.96h1.5M699.60,116.96h-1.5M531.85,115.31h1.5M699.60,115.31h-1.5M531.85,113.86h1.5M699.60,113.86h-1.5M531.85,112.56h2.6M699.60,112.56h-2.6M531.85,104.00h1.5M699.60,104.00h-1.5M531.85,99.00h1.5M699.60,99.00h-1.5M531.85,95.45h1.5M699.60,95.45h-1.5M531.85,92.70h1.5M699.60,92.70h-1.5M531.85,90.44h1.5M699.60,90.44h-1.5M531.85,88.54h1.5M699.60,88.54h-1.5M531.85,86.89h1.5M699.60,86.89h-1.5M531.85,85.44h1.5M699.60,85.44h-1.5M531.85,84.14h2.6M699.60,84.14h-2.6M531.85,75.58h1.5M699.60,75.58h-1.5M531.85,70.58h1.5M699.60,70.58h-1.5M531.85,67.03h1.5M699.60,67.03h-1.5M531.85,64.28h1.5M699.60,64.28h-1.5M531.85,62.02h1.5M699.60,62.02h-1.5M531.85,60.12h1.5M699.60,60.12h-1.5M531.85,58.47h1.5M699.60,58.47h-1.5M531.85,57.02h1.5M699.60,57.02h-1.5M531.85,55.72h2.6M699.60,55.72h-2.6M531.85,47.16h1.5M699.60,47.16h-1.5M531.85,42.16h1.5M699.60,42.16h-1.5M531.85,38.61h1.5M699.60,38.61h-1.5M531.85,35.86h1.5M699.60,35.86h-1.5M531.85,33.60h1.5M699.60,33.60h-1.5M531.85,31.70h1.5M699.60,31.70h-1.5M531.85,30.05h1.5M699.60,30.05h-1.5M531.85,28.60h1.5M699.60,28.60h-1.5M531.85,27.30h2.6M699.60,27.30h-2.6M531.85,18.74h1.5M699.60,18.74h-1.5M531.85,13.74h1.5M699.60,13.74h-1.5M531.85,10.19h1.5M699.60,10.19h-1.5M531.85,7.44h1.5M699.60,7.44h-1.5M531.85,5.18h1.5M699.60,5.18h-1.5M531.85,3.28h1.5M699.60,3.28h-1.5M531.85,1.63h1.5M699.60,1.63h-1.5M31.41,321.40v-1.5M31.41,160.90v1.5M33.85,321.40v-1.5M33.85,160.90v1.5M35.97,321.40v-1.5M35.97,160.90v1.5M37.83,321.40v-1.5M37.83,160.90v1.5M39.50,321.40v-2.6M39.50,160.90v2.6M50.47,321.40v-1.5M50.47,160.90v1.5M56.89,321.40v-1.5M56.89,160.90v1.5M61.45,321.40v-1.5M61.45,160.90v1.5M64.98,321.40v-1.5M64.98,160.90v1.5M67.86,321.40v-1.5M67.86,160.90v1.5M70.30,321.40v-1.5M70.30,160.90v1.5M72.42,321.40v-1.5M72.42,160.90v1.5M74.28,321.40v-1.5M74.28,160.90v1.5M75.95,321.40v-2.6M75.95,160.90v2.6M86.92,321.40v-1.5M86.92,160.90v1.5M93.34,321.40v-1.5M93.34,160.90v1.5M97.90,321.40v-1.5M97.90,160.90v1.5M101.43,321.40v-1.5M101.43,160.90v1.5M104.31,321.40v-1.5M104.31,160.90v1.5M106.75,321.40v-1.5M106.75,160.90v1.5M108.87,321.40v-1.5M108.87,160.90v1.5M110.73,321.40v-1.5M110.73,160.90v1.5M112.40,321.40v-2.6M112.40,160.90v2.6M123.37,321.40v-1.5M123.37,160.90v1.5M129.79,321.40v-1.5M129.79,160.90v1.5M134.35,321.40v-1.5M134.35,160.90v1.5M137.88,321.40v-1.5M137.88,160.90v1.5M140.76,321.40v-1.5M140.76,160.90v1.5M143.20,321.40v-1.5M143.20,160.90v1.5M145.32,321.40v-1.5M145.32,160.90v1.5M147.18,321.40v-1.5M147.18,160.90v1.5M148.85,321.40v-2.6M148.85,160.90v2.6M159.82,321.40v-1.5M159.82,160.90v1.5M166.24,321.40v-1.5M166.24,160.90v1.5M170.80,321.40v-1.5M170.80,160.90v1.5M174.33,321.40v-1.5M174.33,160.90v1.5M177.21,321.40v-1.5M177.21,160.90v1.5M179.65,321.40v-1.5M179.65,160.90v1.5M181.77,321.40v-1.5M181.77,160.90v1.5M183.63,321.40v-1.5M183.63,160.90v1.5M185.30,321.40v-2.6M185.30,160.90v2.6M28.50,316.34h1.5M196.25,316.34h-1.5M28.50,312.79h1.5M196.25,312.79h-1.5M28.50,310.04h1.5M196.25,310.04h-1.5M28.50,307.78h1.5M196.25,307.78h-1.5M28.50,305.88h1.5M196.25,305.88h-1.5M28.50,304.23h1.5M196.25,304.23h-1.5M28.50,302.78h1.5M196.25,302.78h-1.5M28.50,301.48h2.6M196.25,301.48h-2.6M28.50,292.92h1.5M196.25,292.92h-1.5M28.50,287.92h1.5M196.25,287.92h-1.5M28.50,284.37h1.5M196.25,284.37h-1.5M28.50,281.62h1.5M196.25,281.62h-1.5M28.50,279.36h1.5M196.25,279.36h-1.5M28.50,277.46h1.5M196.25,277.46h-1.5M28.50,275.81h1.5M196.25,275.81h-1.5M28.50,274.36h1.5M196.25,274.36h-1.5M28.50,273.06h2.6M196.25,273.06h-2.6M28.50,264.50h1.5M196.25,264.50h-1.5M28.50,259.50h1.5M196.25,259.50h-1.5M28.50,255.95h1.5M196.25,255.95h-1.5M28.50,253.20h1.5M196.25,253.20h-1.5M28.50,250.94h1.5M196.25,250.94h-1.5M28.50,249.04h1.5M196.25,249.04h-1.5M28.50,247.39h1.5M196.25,247.39h-1.5M28.50,245.94h1.5M196.25,245.94h-1.5M28.50,244.64h2.6M196.25,244.64h-2.6M28.50,236.08h1.5M196.25,236.08h-1.5M28.50,231.08h1.5M196.25,231.08h-1.5M28.50,227.53h1.5M196.25,227.53h-1.5M28.50,224.78h1.5M196.25,224.78h-1.5M28.50,222.52h1.5M196.25,222.52h-1.5M28.50,220.62h1.5M196.25,220.62h-1.5M28.50,218.97h1.5M196.25,218.97h-1.5M28.50,217.52h1.5M196.25,217.52h-1.5M28.50,216.22h2.6M196.25,216.22h-2.6M28.50,207.66h1.5M196.25,207.66h-1.5M28.50,202.66h1.5M196.25,202.66h-1.5M28.50,199.11h1.5M196.25,199.11h-1.5M28.50,196.36h1.5M196.25,196.36h-1.5M28.50,194.10h1.5M196.25,194.10h-1.5M28.50,192.20h1.5M196.25,192.20h-1.5M28.50,190.55h1.5M196.25,190.55h-1.5M28.50,189.10h1.5M196.25,189.10h-1.5M28.50,187.80h2.6M196.25,187.80h-2.6M28.50,179.24h1.5M196.25,179.24h-1.5M28.50,174.24h1.5M196.25,174.24h-1.5M28.50,170.69h1.5M196.25,170.69h-1.5M28.50,167.94h1.5M196.25,167.94h-1.5M28.50,165.68h1.5M196.25,165.68h-1.5M28.50,163.78h1.5M196.25,163.78h-1.5M28.50,162.13h1.5M196.25,162.13h-1.5M199.26,321.40v-1.5M199.26,160.90v1.5M201.70,321.40v-1.5M201.70,160.90v1.5M203.82,321.40v-1.5M203.82,160.90v1.5M205.68,321.40v-1.5M205.68,160.90v1.5M207.35,321.40v-2.6M207.35,160.90v2.6M218.32,321.40v-1.5M218.32,160.90v1.5M224.74,321.40v-1.5M224.74,160.90v1.5M229.30,321.40v-1.5M229.30,160.90v1.5M232.83,321.40v-1.5M232.83,160.90v1.5M235.71,321.40v-1.5M235.71,160.90v1.5M238.15,321.40v-1.5M238.15,160.90v1.5M240.27,321.40v-1.5M240.27,160.90v1.5M242.13,321.40v-1.5M242.13,160.90v1.5M243.80,321.40v-2.6M243.80,160.90v2.6M254.77,321.40v-1.5M254.77,160.90v1.5M261.19,321.40v-1.5M261.19,160.90v1.5M265.75,321.40v-1.5M265.75,160.90v1.5M269.28,321.40v-1.5M269.28,160.90v1.5M272.16,321.40v-1.5M272.16,160.90v1.5M274.60,321.40v-1.5M274.60,160.90v1.5M276.72,321.40v-1.5M276.72,160.90v1.5M278.58,321.40v-1.5M278.58,160.90v1.5M280.25,321.40v-2.6M280.25,160.90v2.6M291.22,321.40v-1.5M291.22,160.90v1.5M297.64,321.40v-1.5M297.64,160.90v1.5M302.20,321.40v-1.5M302.20,160.90v1.5M305.73,321.40v-1.5M305.73,160.90v1.5M308.61,321.40v-1.5M308.61,160.90v1.5M311.05,321.40v-1.5M311.05,160.90v1.5M313.17,321.40v-1.5M313.17,160.90v1.5M315.03,321.40v-1.5M315.03,160.90v1.5M316.70,321.40v-2.6M316.70,160.90v2.6M327.67,321.40v-1.5M327.67,160.90v1.5M334.09,321.40v-1.5M334.09,160.90v1.5M338.65,321.40v-1.5M338.65,160.90v1.5M342.18,321.40v-1.5M342.18,160.90v1.5M345.06,321.40v-1.5M345.06,160.90v1.5M347.50,321.40v-1.5M347.50,160.90v1.5M349.62,321.40v-1.5M349.62,160.90v1.5M351.48,321.40v-1.5M351.48,160.90v1.5M353.15,321.40v-2.6M353.15,160.90v2.6M196.35,316.34h1.5M364.10,316.34h-1.5M196.35,312.79h1.5M364.10,312.79h-1.5M196.35,310.04h1.5M364.10,310.04h-1.5M196.35,307.78h1.5M364.10,307.78h-1.5M196.35,305.88h1.5M364.10,305.88h-1.5M196.35,304.23h1.5M364.10,304.23h-1.5M196.35,302.78h1.5M364.10,302.78h-1.5M196.35,301.48h2.6M364.10,301.48h-2.6M196.35,292.92h1.5M364.10,292.92h-1.5M196.35,287.92h1.5M364.10,287.92h-1.5M196.35,284.37h1.5M364.10,284.37h-1.5M196.35,281.62h1.5M364.10,281.62h-1.5M196.35,279.36h1.5M364.10,279.36h-1.5M196.35,277.46h1.5M364.10,277.46h-1.5M196.35,275.81h1.5M364.10,275.81h-1.5M196.35,274.36h1.5M364.10,274.36h-1.5M196.35,273.06h2.6M364.10,273.06h-2.6M196.35,264.50h1.5M364.10,264.50h-1.5M196.35,259.50h1.5M364.10,259.50h-1.5M196.35,255.95h1.5M364.10,255.95h-1.5M196.35,253.20h1.5M364.10,253.20h-1.5M196.35,250.94h1.5M364.10,250.94h-1.5M196.35,249.04h1.5M364.10,249.04h-1.5M196.35,247.39h1.5M364.10,247.39h-1.5M196.35,245.94h1.5M364.10,245.94h-1.5M196.35,244.64h2.6M364.10,244.64h-2.6M196.35,236.08h1.5M364.10,236.08h-1.5M196.35,231.08h1.5M364.10,231.08h-1.5M196.35,227.53h1.5M364.10,227.53h-1.5M196.35,224.78h1.5M364.10,224.78h-1.5M196.35,222.52h1.5M364.10,222.52h-1.5M196.35,220.62h1.5M364.10,220.62h-1.5M196.35,218.97h1.5M364.10,218.97h-1.5M196.35,217.52h1.5M364.10,217.52h-1.5M196.35,216.22h2.6M364.10,216.22h-2.6M196.35,207.66h1.5M364.10,207.66h-1.5M196.35,202.66h1.5M364.10,202.66h-1.5M196.35,199.11h1.5M364.10,199.11h-1.5M196.35,196.36h1.5M364.10,196.36h-1.5M196.35,194.10h1.5M364.10,194.10h-1.5M196.35,192.20h1.5M364.10,192.20h-1.5M196.35,190.55h1.5M364.10,190.55h-1.5M196.35,189.10h1.5M364.10,189.10h-1.5M196.35,187.80h2.6M364.10,187.80h-2.6M196.35,179.24h1.5M364.10,179.24h-1.5M196.35,174.24h1.5M364.10,174.24h-1.5M196.35,170.69h1.5M364.10,170.69h-1.5M196.35,167.94h1.5M364.10,167.94h-1.5M196.35,165.68h1.5M364.10,165.68h-1.5M196.35,163.78h1.5M364.10,163.78h-1.5M196.35,162.13h1.5M364.10,162.13h-1.5M367.01,321.40v-1.5M367.01,160.90v1.5M369.45,321.40v-1.5M369.45,160.90v1.5M371.57,321.40v-1.5M371.57,160.90v1.5M373.43,321.40v-1.5M373.43,160.90v1.5M375.10,321.40v-2.6M375.10,160.90v2.6M386.07,321.40v-1.5M386.07,160.90v1.5M392.49,321.40v-1.5M392.49,160.90v1.5M397.05,321.40v-1.5M397.05,160.90v1.5M400.58,321.40v-1.5M400.58,160.90v1.5M403.46,321.40v-1.5M403.46,160.90v1.5M405.90,321.40v-1.5M405.90,160.90v1.5M408.02,321.40v-1.5M408.02,160.90v1.5M409.88,321.40v-1.5M409.88,160.90v1.5M411.55,321.40v-2.6M411.55,160.90v2.6M422.52,321.40v-1.5M422.52,160.90v1.5M428.94,321.40v-1.5M428.94,160.90v1.5M433.50,321.40v-1.5M433.50,160.90v1.5M437.03,321.40v-1.5M437.03,160.90v1.5M439.91,321.40v-1.5M439.91,160.90v1.5M442.35,321.40v-1.5M442.35,160.90v1.5M444.47,321.40v-1.5M444.47,160.90v1.5M446.33,321.40v-1.5M446.33,160.90v1.5M448.00,321.40v-2.6M448.00,160.90v2.6M458.97,321.40v-1.5M458.97,160.90v1.5M465.39,321.40v-1.5M465.39,160.90v1.5M469.95,321.40v-1.5M469.95,160.90v1.5M473.48,321.40v-1.5M473.48,160.90v1.5M476.36,321.40v-1.5M476.36,160.90v1.5M478.80,321.40v-1.5M478.80,160.90v1.5M480.92,321.40v-1.5M480.92,160.90v1.5M482.78,321.40v-1.5M482.78,160.90v1.5M484.45,321.40v-2.6M484.45,160.90v2.6M495.42,321.40v-1.5M495.42,160.90v1.5M501.84,321.40v-1.5M501.84,160.90v1.5M506.40,321.40v-1.5M506.40,160.90v1.5M509.93,321.40v-1.5M509.93,160.90v1.5M512.81,321.40v-1.5M512.81,160.90v1.5M515.25,321.40v-1.5M515.25,160.90v1.5M517.37,321.40v-1.5M517.37,160.90v1.5M519.23,321.40v-1.5M519.23,160.90v1.5M520.90,321.40v-2.6M520.90,160.90v2.6M364.10,316.34h1.5M531.85,316.34h-1.5M364.10,312.79h1.5M531.85,312.79h-1.5M364.10,310.04h1.5M531.85,310.04h-1.5M364.10,307.78h1.5M531.85,307.78h-1.5M364.10,305.88h1.5M531.85,305.88h-1.5M364.10,304.23h1.5M531.85,304.23h-1.5M364.10,302.78h1.5M531.85,302.78h-1.5M364.10,301.48h2.6M531.85,301.48h-2.6M364.10,292.92h1.5M531.85,292.92h-1.5M364.10,287.92h1.5M531.85,287.92h-1.5M364.10,284.37h1.5M531.85,284.37h-1.5M364.10,281.62h1.5M531.85,281.62h-1.5M364.10,279.36h1.5M531.85,279.36h-1.5M364.10,277.46h1.5M531.85,277.46h-1.5M364.10,275.81h1.5M531.85,275.81h-1.5M364.10,274.36h1.5M531.85,274.36h-1.5M364.10,273.06h2.6M531.85,273.06h-2.6M364.10,264.50h1.5M531.85,264.50h-1.5M364.10,259.50h1.5M531.85,259.50h-1.5M364.10,255.95h1.5M531.85,255.95h-1.5M364.10,253.20h1.5M531.85,253.20h-1.5M364.10,250.94h1.5M531.85,250.94h-1.5M364.10,249.04h1.5M531.85,249.04h-1.5M364.10,247.39h1.5M531.85,247.39h-1.5M364.10,245.94h1.5M531.85,245.94h-1.5M364.10,244.64h2.6M531.85,244.64h-2.6M364.10,236.08h1.5M531.85,236.08h-1.5M364.10,231.08h1.5M531.85,231.08h-1.5M364.10,227.53h1.5M531.85,227.53h-1.5M364.10,224.78h1.5M531.85,224.78h-1.5M364.10,222.52h1.5M531.85,222.52h-1.5M364.10,220.62h1.5M531.85,220.62h-1.5M364.10,218.97h1.5M531.85,218.97h-1.5M364.10,217.52h1.5M531.85,217.52h-1.5M364.10,216.22h2.6M531.85,216.22h-2.6M364.10,207.66h1.5M531.85,207.66h-1.5M364.10,202.66h1.5M531.85,202.66h-1.5M364.10,199.11h1.5M531.85,199.11h-1.5M364.10,196.36h1.5M531.85,196.36h-1.5M364.10,194.10h1.5M531.85,194.10h-1.5M364.10,192.20h1.5M531.85,192.20h-1.5M364.10,190.55h1.5M531.85,190.55h-1.5M364.10,189.10h1.5M531.85,189.10h-1.5M364.10,187.80h2.6M531.85,187.80h-2.6M364.10,179.24h1.5M531.85,179.24h-1.5M364.10,174.24h1.5M531.85,174.24h-1.5M364.10,170.69h1.5M531.85,170.69h-1.5M364.10,167.94h1.5M531.85,167.94h-1.5M364.10,165.68h1.5M531.85,165.68h-1.5M364.10,163.78h1.5M531.85,163.78h-1.5M364.10,162.13h1.5M531.85,162.13h-1.5M534.76,321.40v-1.5M534.76,160.90v1.5M537.20,321.40v-1.5M537.20,160.90v1.5M539.32,321.40v-1.5M539.32,160.90v1.5M541.18,321.40v-1.5M541.18,160.90v1.5M542.85,321.40v-2.6M542.85,160.90v2.6M553.82,321.40v-1.5M553.82,160.90v1.5M560.24,321.40v-1.5M560.24,160.90v1.5M564.80,321.40v-1.5M564.80,160.90v1.5M568.33,321.40v-1.5M568.33,160.90v1.5M571.21,321.40v-1.5M571.21,160.90v1.5M573.65,321.40v-1.5M573.65,160.90v1.5M575.77,321.40v-1.5M575.77,160.90v1.5M577.63,321.40v-1.5M577.63,160.90v1.5M579.30,321.40v-2.6M579.30,160.90v2.6M590.27,321.40v-1.5M590.27,160.90v1.5M596.69,321.40v-1.5M596.69,160.90v1.5M601.25,321.40v-1.5M601.25,160.90v1.5M604.78,321.40v-1.5M604.78,160.90v1.5M607.66,321.40v-1.5M607.66,160.90v1.5M610.10,321.40v-1.5M610.10,160.90v1.5M612.22,321.40v-1.5M612.22,160.90v1.5M614.08,321.40v-1.5M614.08,160.90v1.5M615.75,321.40v-2.6M615.75,160.90v2.6M626.72,321.40v-1.5M626.72,160.90v1.5M633.14,321.40v-1.5M633.14,160.90v1.5M637.70,321.40v-1.5M637.70,160.90v1.5M641.23,321.40v-1.5M641.23,160.90v1.5M644.11,321.40v-1.5M644.11,160.90v1.5M646.55,321.40v-1.5M646.55,160.90v1.5M648.67,321.40v-1.5M648.67,160.90v1.5M650.53,321.40v-1.5M650.53,160.90v1.5M652.20,321.40v-2.6M652.20,160.90v2.6M663.17,321.40v-1.5M663.17,160.90v1.5M669.59,321.40v-1.5M669.59,160.90v1.5M674.15,321.40v-1.5M674.15,160.90v1.5M677.68,321.40v-1.5M677.68,160.90v1.5M680.56,321.40v-1.5M680.56,160.90v1.5M683.00,321.40v-1.5M683.00,160.90v1.5M685.12,321.40v-1.5M685.12,160.90v1.5M686.98,321.40v-1.5M686.98,160.90v1.5M688.65,321.40v-2.6M688.65,160.90v2.6M531.85,316.34h1.5M699.60,316.34h-1.5M531.85,312.79h1.5M699.60,312.79h-1.5M531.85,310.04h1.5M699.60,310.04h-1.5M531.85,307.78h1.5M699.60,307.78h-1.5M531.85,305.88h1.5M699.60,305.88h-1.5M531.85,304.23h1.5M699.60,304.23h-1.5M531.85,302.78h1.5M699.60,302.78h-1.5M531.85,301.48h2.6M699.60,301.48h-2.6M531.85,292.92h1.5M699.60,292.92h-1.5M531.85,287.92h1.5M699.60,287.92h-1.5M531.85,284.37h1.5M699.60,284.37h-1.5M531.85,281.62h1.5M699.60,281.62h-1.5M531.85,279.36h1.5M699.60,279.36h-1.5M531.85,277.46h1.5M699.60,277.46h-1.5M531.85,275.81h1.5M699.60,275.81h-1.5M531.85,274.36h1.5M699.60,274.36h-1.5M531.85,273.06h2.6M699.60,273.06h-2.6M531.85,264.50h1.5M699.60,264.50h-1.5M531.85,259.50h1.5M699.60,259.50h-1.5M531.85,255.95h1.5M699.60,255.95h-1.5M531.85,253.20h1.5M699.60,253.20h-1.5M531.85,250.94h1.5M699.60,250.94h-1.5M531.85,249.04h1.5M699.60,249.04h-1.5M531.85,247.39h1.5M699.60,247.39h-1.5M531.85,245.94h1.5M699.60,245.94h-1.5M531.85,244.64h2.6M699.60,244.64h-2.6M531.85,236.08h1.5M699.60,236.08h-1.5M531.85,231.08h1.5M699.60,231.08h-1.5M531.85,227.53h1.5M699.60,227.53h-1.5M531.85,224.78h1.5M699.60,224.78h-1.5M531.85,222.52h1.5M699.60,222.52h-1.5M531.85,220.62h1.5M699.60,220.62h-1.5M531.85,218.97h1.5M699.60,218.97h-1.5M531.85,217.52h1.5M699.60,217.52h-1.5M531.85,216.22h2.6M699.60,216.22h-2.6M531.85,207.66h1.5M699.60,207.66h-1.5M531.85,202.66h1.5M699.60,202.66h-1.5M531.85,199.11h1.5M699.60,199.11h-1.5M531.85,196.36h1.5M699.60,196.36h-1.5M531.85,194.10h1.5M699.60,194.10h-1.5M531.85,192.20h1.5M699.60,192.20h-1.5M531.85,190.55h1.5M699.60,190.55h-1.5M531.85,189.10h1.5M699.60,189.10h-1.5M531.85,187.80h2.6M699.60,187.80h-2.6M531.85,179.24h1.5M699.60,179.24h-1.5M531.85,174.24h1.5M699.60,174.24h-1.5M531.85,170.69h1.5M699.60,170.69h-1.5M531.85,167.94h1.5M699.60,167.94h-1.5M531.85,165.68h1.5M699.60,165.68h-1.5M531.85,163.78h1.5M699.60,163.78h-1.5M531.85,162.13h1.5M699.60,162.13h-1.5" stroke="#111" stroke-width="0.8" fill="none"/>
<path d="M28.50,0.40h167.75v160.5h-167.75zM196.35,0.40h167.75v160.5h-167.75zM364.10,0.40h167.75v160.5h-167.75zM531.85,0.40h167.75v160.5h-167.75zM28.50,160.90h167.75v160.5h-167.75zM196.35,160.90h167.75v160.5h-167.75zM364.10,160.90h167.75v160.5h-167.75zM531.85,160.90h167.75v160.5h-167.75z" stroke="#111" stroke-width="1" fill="none"/>
<g class="tk">
<text transform="translate(29.88,331.28) rotate(0.05) scale(0.960,1.041)" font-size="10.6">10</text>
<text transform="translate(40.67,327.53) rotate(0.05) scale(1.158,1.003)" font-size="7.4">&#8722;3</text>
<text transform="translate(66.33,331.28) rotate(0.05) scale(0.960,1.041)" font-size="10.6">10</text>
<text transform="translate(77.11,327.60) rotate(0.05) scale(1.182,1.019)" font-size="7.4">&#8722;2</text>
<text transform="translate(102.78,331.28) rotate(0.05) scale(0.960,1.041)" font-size="10.6">10</text>
<text transform="translate(113.56,327.60) rotate(0.05) scale(1.195,1.003)" font-size="7.4">&#8722;1</text>
<text transform="translate(141.97,331.28) rotate(0.05) scale(0.976,1.041)" font-size="10.6">10</text>
<text transform="translate(152.51,327.45) rotate(0.05) scale(0.965,0.988)" font-size="7.4">0</text>
<text transform="translate(178.42,331.28) rotate(0.05) scale(0.976,1.041)" font-size="10.6">10</text>
<text transform="translate(189.06,327.40) rotate(0.05) scale(0.811,0.942)" font-size="7.4">1</text>
<text transform="translate(197.73,331.28) rotate(0.05) scale(0.960,1.041)" font-size="10.6">10</text>
<text transform="translate(208.52,327.53) rotate(0.05) scale(1.158,1.003)" font-size="7.4">&#8722;3</text>
<text transform="translate(234.18,331.28) rotate(0.05) scale(0.960,1.041)" font-size="10.6">10</text>
<text transform="translate(244.96,327.60) rotate(0.05) scale(1.182,1.019)" font-size="7.4">&#8722;2</text>
<text transform="translate(270.63,331.28) rotate(0.05) scale(0.960,1.041)" font-size="10.6">10</text>
<text transform="translate(281.41,327.60) rotate(0.05) scale(1.195,1.003)" font-size="7.4">&#8722;1</text>
<text transform="translate(309.82,331.28) rotate(0.05) scale(0.976,1.041)" font-size="10.6">10</text>
<text transform="translate(320.36,327.45) rotate(0.05) scale(0.965,0.988)" font-size="7.4">0</text>
<text transform="translate(346.27,331.28) rotate(0.05) scale(0.976,1.041)" font-size="10.6">10</text>
<text transform="translate(356.91,327.40) rotate(0.05) scale(0.811,0.942)" font-size="7.4">1</text>
<text transform="translate(365.48,331.28) rotate(0.05) scale(0.960,1.041)" font-size="10.6">10</text>
<text transform="translate(376.27,327.53) rotate(0.05) scale(1.158,1.003)" font-size="7.4">&#8722;3</text>
<text transform="translate(401.93,331.28) rotate(0.05) scale(0.960,1.041)" font-size="10.6">10</text>
<text transform="translate(412.71,327.60) rotate(0.05) scale(1.182,1.019)" font-size="7.4">&#8722;2</text>
<text transform="translate(438.38,331.28) rotate(0.05) scale(0.960,1.041)" font-size="10.6">10</text>
<text transform="translate(449.16,327.60) rotate(0.05) scale(1.195,1.003)" font-size="7.4">&#8722;1</text>
<text transform="translate(477.57,331.28) rotate(0.05) scale(0.976,1.041)" font-size="10.6">10</text>
<text transform="translate(488.11,327.45) rotate(0.05) scale(0.965,0.988)" font-size="7.4">0</text>
<text transform="translate(514.02,331.28) rotate(0.05) scale(0.976,1.041)" font-size="10.6">10</text>
<text transform="translate(524.66,327.40) rotate(0.05) scale(0.811,0.942)" font-size="7.4">1</text>
<text transform="translate(533.23,331.28) rotate(0.05) scale(0.960,1.041)" font-size="10.6">10</text>
<text transform="translate(544.02,327.53) rotate(0.05) scale(1.158,1.003)" font-size="7.4">&#8722;3</text>
<text transform="translate(569.68,331.28) rotate(0.05) scale(0.960,1.041)" font-size="10.6">10</text>
<text transform="translate(580.46,327.60) rotate(0.05) scale(1.182,1.019)" font-size="7.4">&#8722;2</text>
<text transform="translate(606.13,331.28) rotate(0.05) scale(0.960,1.041)" font-size="10.6">10</text>
<text transform="translate(616.91,327.60) rotate(0.05) scale(1.195,1.003)" font-size="7.4">&#8722;1</text>
<text transform="translate(645.32,331.28) rotate(0.05) scale(0.976,1.041)" font-size="10.6">10</text>
<text transform="translate(655.86,327.45) rotate(0.05) scale(0.965,0.988)" font-size="7.4">0</text>
<text transform="translate(681.77,331.28) rotate(0.05) scale(0.976,1.041)" font-size="10.6">10</text>
<text transform="translate(692.41,327.40) rotate(0.05) scale(0.811,0.942)" font-size="7.4">1</text>
<text transform="translate(24.28,151.99) rotate(-89.95) scale(0.954,1.041)" font-size="10.6">10</text>
<text transform="translate(20.23,141.26) rotate(-89.95) scale(1.032,1.008)" font-size="7.4">&#8722;15</text>
<text transform="translate(24.28,123.57) rotate(-89.95) scale(0.954,1.041)" font-size="10.6">10</text>
<text transform="translate(20.30,112.84) rotate(-89.95) scale(1.018,1.024)" font-size="7.4">&#8722;14</text>
<text transform="translate(24.28,95.15) rotate(-89.95) scale(0.954,1.041)" font-size="10.6">10</text>
<text transform="translate(20.23,84.42) rotate(-89.95) scale(1.032,1.008)" font-size="7.4">&#8722;13</text>
<text transform="translate(24.28,66.73) rotate(-89.95) scale(0.954,1.041)" font-size="10.6">10</text>
<text transform="translate(20.30,56.01) rotate(-89.95) scale(1.046,1.024)" font-size="7.4">&#8722;12</text>
<text transform="translate(24.28,38.31) rotate(-89.95) scale(0.954,1.041)" font-size="10.6">10</text>
<text transform="translate(20.30,27.60) rotate(-89.95) scale(1.075,1.024)" font-size="7.4">&#8722;11</text>
<text transform="translate(24.28,312.49) rotate(-89.95) scale(0.954,1.041)" font-size="10.6">10</text>
<text transform="translate(20.23,301.76) rotate(-89.95) scale(1.032,1.008)" font-size="7.4">&#8722;15</text>
<text transform="translate(24.28,284.07) rotate(-89.95) scale(0.954,1.041)" font-size="10.6">10</text>
<text transform="translate(20.30,273.34) rotate(-89.95) scale(1.018,1.024)" font-size="7.4">&#8722;14</text>
<text transform="translate(24.28,255.65) rotate(-89.95) scale(0.954,1.041)" font-size="10.6">10</text>
<text transform="translate(20.23,244.92) rotate(-89.95) scale(1.032,1.008)" font-size="7.4">&#8722;13</text>
<text transform="translate(24.28,227.23) rotate(-89.95) scale(0.954,1.041)" font-size="10.6">10</text>
<text transform="translate(20.30,216.51) rotate(-89.95) scale(1.046,1.024)" font-size="7.4">&#8722;12</text>
<text transform="translate(24.28,198.81) rotate(-89.95) scale(0.954,1.041)" font-size="10.6">10</text>
<text transform="translate(20.30,188.10) rotate(-89.95) scale(1.075,1.024)" font-size="7.4">&#8722;11</text>
</g>
<g class="ax">
<text transform="translate(343.94,343.53) rotate(0.05) scale(1.050,1.102)" font-size="12.4">Time (day)</text>
<text transform="translate(10.60,121.60) rotate(-89.95) scale(0.861,1.055)" font-size="12.4">&#936;</text>
<text transform="translate(10.86,110.17) rotate(-89.95) scale(0.744,1.129)" font-size="12.4">(</text>
<text transform="translate(10.46,106.39) rotate(-89.95) scale(0.995,0.862)" font-size="12.4">erg</text>
<text transform="translate(10.88,89.08) rotate(-89.95) scale(1.171,0.974)" font-size="12.4">s</text>
<text transform="translate(5.80,83.21) rotate(-89.95) scale(1.263,0.981)" font-size="8.0">&#8722;2</text>
<text transform="translate(10.77,70.48) rotate(-89.95) scale(0.958,1.025)" font-size="12.4">cm</text>
<text transform="translate(5.60,54.69) rotate(-89.95) scale(1.224,0.923)" font-size="8.0">&#8722;2</text>
<text transform="translate(10.81,43.68) rotate(-89.95) scale(1.024,1.111)" font-size="12.4">)</text>
<text transform="translate(10.60,282.10) rotate(-89.95) scale(0.861,1.055)" font-size="12.4">&#936;</text>
<text transform="translate(10.86,270.67) rotate(-89.95) scale(0.744,1.129)" font-size="12.4">(</text>
<text transform="translate(10.46,266.89) rotate(-89.95) scale(0.995,0.862)" font-size="12.4">erg</text>
<text transform="translate(10.88,249.58) rotate(-89.95) scale(1.171,0.974)" font-size="12.4">s</text>
<text transform="translate(5.80,243.71) rotate(-89.95) scale(1.263,0.981)" font-size="8.0">&#8722;2</text>
<text transform="translate(10.77,230.98) rotate(-89.95) scale(0.958,1.025)" font-size="12.4">cm</text>
<text transform="translate(5.60,215.19) rotate(-89.95) scale(1.224,0.923)" font-size="8.0">&#8722;2</text>
<text transform="translate(10.81,204.18) rotate(-89.95) scale(1.024,1.111)" font-size="12.4">)</text>
</g>
<g class="t">
<text class="i" transform="translate(40.61,18.70) rotate(0.05) scale(1.002,1.077)" font-size="11.0">H</text>
<text class="i" transform="translate(50.26,18.66) rotate(0.05) scale(1.315,1.085)" font-size="11.0">S</text>
<text class="i" transform="translate(57.70,18.70) rotate(0.05) scale(1.044,1.077)" font-size="11.0">T</text>
<text transform="translate(67.35,18.70) rotate(0.05) scale(1.051,1.039)" font-size="11.0">&#955;</text>
<text transform="translate(73.90,18.57) rotate(0.05) scale(1.008,1.029)" font-size="11.0">1158</text>
<text transform="translate(98.41,18.70) rotate(0.05) scale(0.844,1.089)" font-size="11.0">&#197;</text>
<text transform="translate(208.17,18.87) rotate(0.05) scale(1.032,1.058)" font-size="11.0">UVW2</text>
<text class="i" transform="translate(375.10,19.22) rotate(0.05) scale(1.103,1.029)" font-size="11.0">g</text>
<text transform="translate(380.79,20.86) rotate(0.05) scale(1.288,1.462)" font-size="11.0">&#8242;</text>
<text class="i" transform="translate(543.81,19.00) rotate(0.05) scale(0.979,1.008)" font-size="11.0">z</text>
<text transform="translate(548.11,21.42) rotate(0.05) scale(1.439,1.542)" font-size="11.0">&#8242;</text>
<text class="i" transform="translate(86.72,132.38) rotate(0.05) scale(1.185,1.120)" font-size="10.6">a</text>
<text transform="translate(92.90,130.54) rotate(0.05) scale(1.143,1.151)" font-size="7.0">*</text>
<text transform="translate(99.99,133.87) rotate(0.05) scale(1.525,1.245)" font-size="10.6">=</text>
<text transform="translate(111.51,132.37) rotate(0.05) scale(1.146,1.070)" font-size="10.6">0</text>
<text class="i" transform="translate(86.72,292.38) rotate(0.05) scale(1.185,1.120)" font-size="10.6">a</text>
<text transform="translate(92.90,290.54) rotate(0.05) scale(1.143,1.151)" font-size="7.0">*</text>
<text transform="translate(99.99,293.87) rotate(0.05) scale(1.525,1.245)" font-size="10.6">=</text>
<text transform="translate(111.90,292.50) rotate(0.05) scale(0.943,1.072)" font-size="10.6">1</text>
</g>
<g class="lg">
<line x1="113.2" x2="129.7" y1="10.7" y2="10.7" stroke="#000000" stroke-width="1.05"/>
<text class="i" transform="translate(136.20,12.55) rotate(0.05) scale(1.282,1.075)" font-size="7.8">R</text>
<text class="i" transform="translate(142.33,13.54) rotate(0.05) scale(1.079,1.040)" font-size="5.4">out</text>
<text transform="translate(152.83,13.72) rotate(0.05) scale(1.473,1.231)" font-size="7.8">=</text>
<text transform="translate(160.72,12.34) rotate(0.05) scale(1.026,1.052)" font-size="7.8">500</text>
<text transform="translate(175.66,12.57) rotate(0.05) scale(0.897,0.948)" font-size="7.8">r</text>
<text transform="translate(178.54,13.52) rotate(0.05) scale(1.221,0.863)" font-size="5.4">g</text>
<line x1="113.2" x2="129.7" y1="22.3" y2="22.3" stroke="#4169e1" stroke-width="1.05"/>
<text class="i" transform="translate(136.20,23.90) rotate(0.05) scale(1.282,1.075)" font-size="7.8">R</text>
<text class="i" transform="translate(142.33,24.89) rotate(0.05) scale(1.079,1.040)" font-size="5.4">out</text>
<text transform="translate(152.83,25.07) rotate(0.05) scale(1.473,1.231)" font-size="7.8">=</text>
<text transform="translate(161.09,23.69) rotate(0.05) scale(1.015,1.037)" font-size="7.8">1000</text>
<text transform="translate(179.36,23.92) rotate(0.05) scale(0.897,0.948)" font-size="7.8">r</text>
<text transform="translate(182.24,24.87) rotate(0.05) scale(1.221,0.863)" font-size="5.4">g</text>
<line x1="113.2" x2="129.7" y1="33.6" y2="33.6" stroke="#ff0000" stroke-width="1.05"/>
<text class="i" transform="translate(136.20,35.00) rotate(0.05) scale(1.282,1.075)" font-size="7.8">R</text>
<text class="i" transform="translate(142.33,35.99) rotate(0.05) scale(1.079,1.040)" font-size="5.4">out</text>
<text transform="translate(152.83,36.17) rotate(0.05) scale(1.473,1.231)" font-size="7.8">=</text>
<text transform="translate(160.82,34.79) rotate(0.05) scale(1.032,1.052)" font-size="7.8">5000</text>
<text transform="translate(179.36,35.02) rotate(0.05) scale(0.897,0.948)" font-size="7.8">r</text>
<text transform="translate(182.24,35.97) rotate(0.05) scale(1.221,0.863)" font-size="5.4">g</text>
<line x1="113.2" x2="129.7" y1="45.1" y2="45.1" stroke="#008000" stroke-width="1.05"/>
<text class="i" transform="translate(136.20,46.20) rotate(0.05) scale(1.282,1.075)" font-size="7.8">R</text>
<text class="i" transform="translate(142.33,47.19) rotate(0.05) scale(1.079,1.040)" font-size="5.4">out</text>
<text transform="translate(152.83,47.37) rotate(0.05) scale(1.473,1.231)" font-size="7.8">=</text>
<text transform="translate(161.11,45.99) rotate(0.05) scale(0.990,1.037)" font-size="7.8">10000</text>
<text transform="translate(183.06,46.22) rotate(0.05) scale(0.897,0.948)" font-size="7.8">r</text>
<text transform="translate(185.94,47.17) rotate(0.05) scale(1.221,0.863)" font-size="5.4">g</text>
</g>
</g>
</svg>
</body></html>
